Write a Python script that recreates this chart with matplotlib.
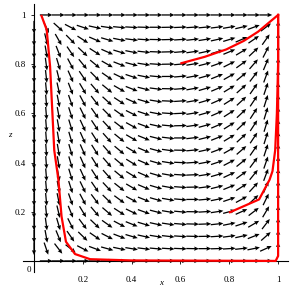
import numpy as np
import matplotlib
matplotlib.use("Agg")
import matplotlib.pyplot as plt

# grid of the direction field
x_grid = np.linspace(0, 1, 21)
z_grid = np.linspace(0, 1, 21)

# field parameters (x' = x(1-x)(1+2x), z' = k z(1-z)(x - a0 - a1 z))
k_z = 5.0
a0 = 0.70
a1 = -0.20

# red trajectories
traj1_x = [0.031, 0.052, 0.066, 0.083, 0.100, 0.113, 0.131, 0.168, 0.230, 0.40, 0.99, 1.0, 1.0]
traj1_z = [0.996, 0.940, 0.790, 0.450, 0.330, 0.180, 0.078, 0.028, 0.007, 0.002, 0.0, 0.02, 1.0]
traj2_x = [0.803, 0.922, 0.965, 0.977, 0.988, 0.995, 1.0, 1.0]
traj2_z = [0.198, 0.250, 0.330, 0.365, 0.450, 0.600, 0.800, 1.0]
traj3_x = [0.604, 0.700, 0.788, 0.860, 0.918, 1.0]
traj3_z = [0.804, 0.830, 0.860, 0.895, 0.932, 1.0]

xticks = [0.2, 0.4, 0.6, 0.8, 1]
zticks = [0.2, 0.4, 0.6, 0.8, 1]
tick_labels = ["0.2", "0.4", "0.6", "0.8", "1"]

plt.rcParams['font.family'] = ['Liberation Serif', 'DejaVu Serif']

fig = plt.figure(figsize=(2.93, 2.93), dpi=100)
ax = fig.add_axes([0.0785, 0.0717, 0.904, 0.915])

X, Z = np.meshgrid(x_grid, z_grid)
U = X * (1 - X) * (1 + 2 * X)
V = k_z * Z * (1 - Z) * (X - (a0 + a1 * Z))
N = np.hypot(U, V)
mask = N > 1e-12
L = 0.052
U = np.where(mask, U / np.where(mask, N, 1) * L, np.nan)
V = np.where(mask, V / np.where(mask, N, 1) * L, np.nan)

ax.quiver(X, Z, U, V, angles='xy', scale_units='xy', scale=1, pivot='middle',
          color='black', width=0.0048, headwidth=3.4, headlength=3.8,
          headaxislength=3.4, zorder=2)

ax.plot(traj1_x, traj1_z, color='red', lw=1.6, zorder=3)
ax.plot(traj2_x, traj2_z, color='red', lw=1.6, zorder=3)
ax.plot(traj3_x, traj3_z, color='red', lw=1.6, zorder=3)

ax.set_xlim(-0.045, 1.04)
ax.set_ylim(-0.045, 1.045)
ax.patch.set_visible(False)

for s in ['top', 'right']:
    ax.spines[s].set_visible(False)
ax.spines['left'].set_position(('data', 0))
ax.spines['bottom'].set_position(('data', 0))
ax.spines['left'].set_linewidth(0.8)
ax.spines['bottom'].set_linewidth(0.8)

ax.set_xticks(xticks)
ax.set_xticklabels(tick_labels)
ax.set_yticks(zticks)
ax.set_yticklabels(tick_labels)
ax.tick_params(axis='both', length=2, width=0.6, labelsize=6.5)
ax.tick_params(axis='x', pad=9)
ax.tick_params(axis='y', pad=4)

ax.text(-0.02, -0.037, "0", fontsize=6.5, ha='center', va='center')
ax.text(0.52, -0.09, "x", fontsize=6.5, style='italic', ha='center', va='center')
ax.text(-0.10, 0.51, "z", fontsize=6.5, style='italic', ha='center', va='center')

fig.savefig("out.png", dpi=100)
